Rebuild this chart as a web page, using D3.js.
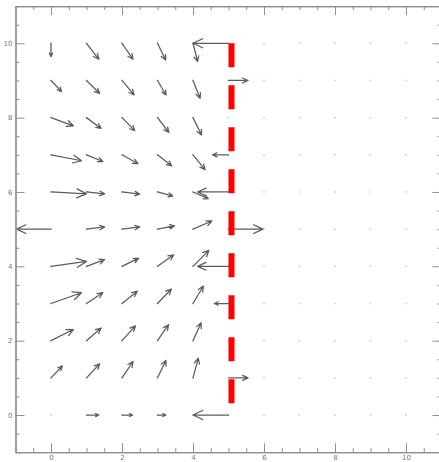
<!DOCTYPE html>
<html><head><meta charset="utf-8">
<script src="https://cdn.jsdelivr.net/npm/d3@7"></script>
<style>html,body{margin:0;padding:0;background:#fff;overflow:hidden}</style>
</head><body><svg id="c" width="439" height="462"></svg>
<script>
// grid columns (x) and rows (y, top to bottom)
const gridX = [0,1,2,3,4,5,6,7,8,9,10];
const gridY = [10,9,8,7,6,5,4,3,2,1,0];
const arrowCols = [0,1,2,3,4];
// u (x-component) for columns 0..4, per row y=10..0
const uRows = [
  [0, 0.35, 0.31, 0.23, 0.13],
  [0.30, 0.37, 0.34, 0.24, 0.20],
  [0.63, 0.41, 0.36, 0.32, 0.24],
  [0.86, 0.46, 0.45, 0.40, 0.34],
  [1.00, 0.51, 0.50, 0.43, 0.43],
  [-0.97, 0.51, 0.50, 0.48, 0.53],
  [1.00, 0.51, 0.47, 0.46, 0.45],
  [0.86, 0.46, 0.43, 0.39, 0.29],
  [0.63, 0.41, 0.38, 0.31, 0.23],
  [0.32, 0.37, 0.31, 0.24, 0.15],
  [0, 0.35, 0.30, 0.24, 0]
];
// v (y-component) for columns 0..4, per row y=10..0
const vRows = [
  [-0.36, -0.43, -0.43, -0.45, -0.49],
  [-0.30, -0.35, -0.39, -0.39, -0.48],
  [-0.22, -0.29, -0.35, -0.40, -0.47],
  [-0.16, -0.18, -0.24, -0.30, -0.40],
  [-0.05, -0.05, -0.06, -0.11, -0.18],
  [0, 0.06, 0.06, 0.09, 0.22],
  [0.13, 0.18, 0.22, 0.31, 0.43],
  [0.29, 0.29, 0.33, 0.39, 0.47],
  [0.30, 0.34, 0.40, 0.43, 0.48],
  [0.32, 0.38, 0.44, 0.47, 0.53],
  [0, 0, 0, 0, 0]
];
// boundary column x=5: horizontal vectors per row y=10..0
const boundaryX = 5;
const boundaryU = [-1, 0.55, 0, -0.45, -0.87, 0.97, -0.87, -0.40, 0, 0.55, -1];
const redLineY = [10, 0];
const xTicks = [0,2,4,6,8,10];
const yTicks = [0,2,4,6,8,10];

const svg = d3.select("#c");
const x = d3.scaleLinear().domain([-1, 11]).range([15.5, 441.5]);
const y = d3.scaleLinear().domain([-1, 11]).range([452.2, 6.1]);
const axisCol = "#8f8f8f";

// faint grid dots
const dots = [];
gridY.forEach(gy => gridX.forEach(gx => dots.push([gx, gy])));
svg.append("g").selectAll("rect").data(dots).join("rect")
  .attr("x", d => x(d[0]) - 0.8).attr("y", d => y(d[1]) - 0.8)
  .attr("width", 1.6).attr("height", 1.6).attr("fill", "#cfcfcf");

// vectors
const vecs = [];
gridY.forEach((gy, i) => {
  arrowCols.forEach((gx, j) => vecs.push({x: gx, y: gy, u: uRows[i][j], v: vRows[i][j]}));
  vecs.push({x: boundaryX, y: gy, u: boundaryU[i], v: 0});
});
const ag = svg.append("g").attr("fill", "none").attr("stroke", "#5c5c5c").attr("stroke-width", 1.25)
  .attr("stroke-linecap", "round").attr("stroke-linejoin", "round");
vecs.filter(d => d.u !== 0 || d.v !== 0).forEach(d => {
  const x0 = x(d.x), y0 = y(d.y), x1 = x(d.x + d.u), y1 = y(d.y + d.v);
  const len = Math.hypot(x1 - x0, y1 - y0);
  const ang = Math.atan2(y1 - y0, x1 - x0);
  const h = Math.max(3.5, 0.3 * len), a = 25 * Math.PI / 180;
  const p = d3.path();
  p.moveTo(x0, y0); p.lineTo(x1, y1);
  p.moveTo(x1 - h * Math.cos(ang - a), y1 - h * Math.sin(ang - a));
  p.lineTo(x1, y1);
  p.lineTo(x1 - h * Math.cos(ang + a), y1 - h * Math.sin(ang + a));
  ag.append("path").attr("d", p.toString());
});

// red dashed line
svg.append("line")
  .attr("x1", x(boundaryX) + 3).attr("x2", x(boundaryX) + 3)
  .attr("y1", y(redLineY[0])).attr("y2", y(redLineY[1]))
  .attr("stroke", "#ff0000").attr("stroke-width", 6).attr("stroke-dasharray", "24 18");

// axes with major (every 2) and minor (every 0.5) ticks
const minor = d3.range(-1, 11.01, 0.5).filter(v => v % 2 !== 0);
function styleAxis(g) {
  g.select(".domain").attr("stroke", axisCol).attr("stroke-width", 1.2);
  g.selectAll(".tick line").attr("stroke", axisCol);
  g.selectAll(".tick text").attr("fill", "#777").attr("font-family", "DejaVu Sans, sans-serif").attr("font-size", 7);
}
const fmt = d3.format("d");
// bottom
svg.append("g").attr("transform", `translate(0,${y(-1)})`)
  .call(d3.axisBottom(x).tickValues(minor).tickSize(-4).tickFormat("").tickSizeOuter(0)).call(styleAxis);
svg.append("g").attr("transform", `translate(0,${y(-1)})`)
  .call(d3.axisBottom(x).tickValues(xTicks).tickSize(-9).tickPadding(3).tickFormat(fmt).tickSizeOuter(0)).call(styleAxis);
// top
svg.append("g").attr("transform", `translate(0,${y(11)})`)
  .call(d3.axisTop(x).tickValues(minor).tickSize(-4).tickFormat("").tickSizeOuter(0)).call(styleAxis);
svg.append("g").attr("transform", `translate(0,${y(11)})`)
  .call(d3.axisTop(x).tickValues(xTicks).tickSize(-9).tickFormat("").tickSizeOuter(0)).call(styleAxis);
// left
svg.append("g").attr("transform", `translate(${x(-1)},0)`)
  .call(d3.axisLeft(y).tickValues(minor).tickSize(-4).tickFormat("").tickSizeOuter(0)).call(styleAxis);
svg.append("g").attr("transform", `translate(${x(-1)},0)`)
  .call(d3.axisLeft(y).tickValues(yTicks).tickSize(-9).tickPadding(3).tickFormat(fmt).tickSizeOuter(0)).call(styleAxis)
  .selectAll(".tick text").attr("x", -3);
// right
svg.append("g").attr("transform", `translate(${x(11)},0)`)
  .call(d3.axisRight(y).tickValues(minor).tickSize(-4).tickFormat("").tickSizeOuter(0)).call(styleAxis);
svg.append("g").attr("transform", `translate(${x(11)},0)`)
  .call(d3.axisRight(y).tickValues(yTicks).tickSize(-9).tickFormat("").tickSizeOuter(0)).call(styleAxis);
</script></body></html>
